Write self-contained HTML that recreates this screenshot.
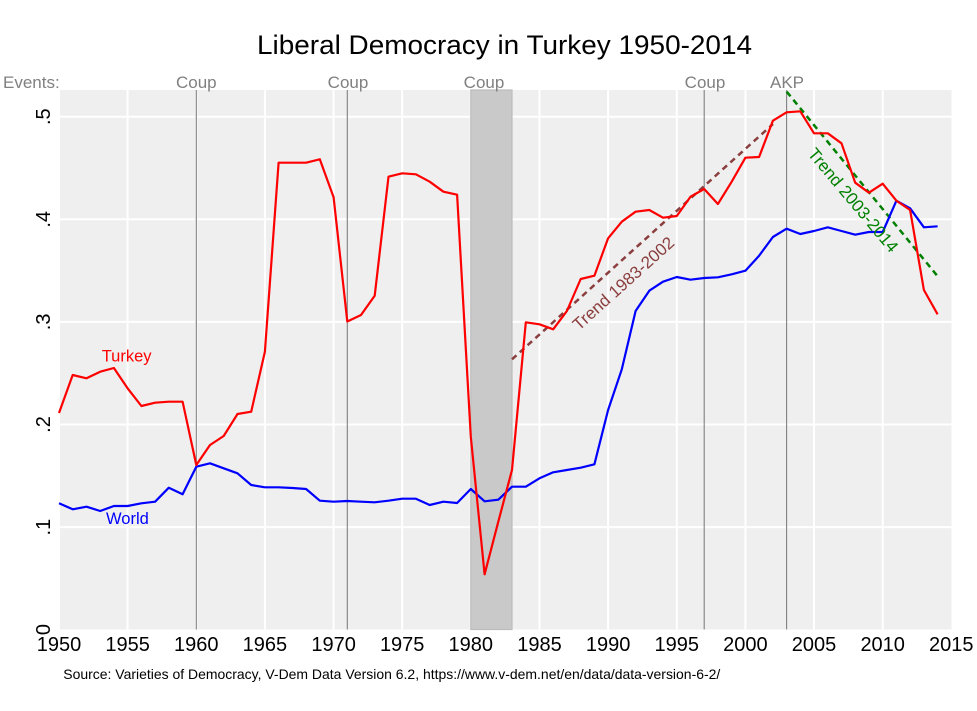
<!DOCTYPE html>
<html>
<head>
<meta charset="utf-8">
<style>
html,body{margin:0;padding:0;background:#fff;}
svg{display:block;}
text{font-family:"Liberation Sans",Arial,Helvetica,sans-serif;}
</style>
</head>
<body>
<svg width="977" height="711" viewBox="0 0 977 711" xmlns="http://www.w3.org/2000/svg">
<rect x="0" y="0" width="977" height="711" fill="#ffffff"/>
<!-- title -->
<text x="504.5" y="54" font-size="27" text-anchor="middle" textLength="495" lengthAdjust="spacingAndGlyphs" fill="#000">Liberal Democracy in Turkey 1950-2014</text>

<!-- plot background -->
<rect x="58.5" y="90" width="893" height="539.5" fill="#efefef"/>

<!-- gridlines -->
<g stroke="#ffffff" stroke-width="2">
<line x1="58.5" y1="116.7" x2="951.5" y2="116.7"/>
<line x1="58.5" y1="219.3" x2="951.5" y2="219.3"/>
<line x1="58.5" y1="321.9" x2="951.5" y2="321.9"/>
<line x1="58.5" y1="424.5" x2="951.5" y2="424.5"/>
<line x1="58.5" y1="527.1" x2="951.5" y2="527.1"/>
<line x1="59" y1="90" x2="59" y2="629.5"/>
<line x1="127.6" y1="90" x2="127.6" y2="629.5"/>
<line x1="196.3" y1="90" x2="196.3" y2="629.5"/>
<line x1="264.9" y1="90" x2="264.9" y2="629.5"/>
<line x1="333.6" y1="90" x2="333.6" y2="629.5"/>
<line x1="402.2" y1="90" x2="402.2" y2="629.5"/>
<line x1="470.8" y1="90" x2="470.8" y2="629.5"/>
<line x1="539.5" y1="90" x2="539.5" y2="629.5"/>
<line x1="608.1" y1="90" x2="608.1" y2="629.5"/>
<line x1="676.8" y1="90" x2="676.8" y2="629.5"/>
<line x1="745.4" y1="90" x2="745.4" y2="629.5"/>
<line x1="814.0" y1="90" x2="814.0" y2="629.5"/>
<line x1="882.7" y1="90" x2="882.7" y2="629.5"/>
</g>

<!-- shaded coup period 1980-1983 -->
<rect x="470.8" y="90" width="41.2" height="539.5" fill="#c9c9c9" stroke="#bcbcbc" stroke-width="1.2"/>

<!-- event lines -->
<g stroke="#808080" stroke-width="1.1">
<line x1="196.3" y1="90" x2="196.3" y2="629.5"/>
<line x1="347.3" y1="90" x2="347.3" y2="629.5"/>
<line x1="704.2" y1="90" x2="704.2" y2="629.5"/>
<line x1="786.6" y1="90" x2="786.6" y2="629.5"/>
</g>

<!-- event labels -->
<g fill="#808080" font-size="17">
<text x="3" y="88">Events:</text>
<text x="196.3" y="88" text-anchor="middle">Coup</text>
<text x="348" y="88" text-anchor="middle">Coup</text>
<text x="484" y="88" text-anchor="middle">Coup</text>
<text x="705" y="88" text-anchor="middle">Coup</text>
<text x="787" y="88" text-anchor="middle">AKP</text>
</g>

<!-- trend lines -->
<line x1="512" y1="359.3" x2="773" y2="124" stroke="#8b3e3e" stroke-width="2.5" stroke-dasharray="6 4.5"/>
<line x1="786.7" y1="91.7" x2="938" y2="276.7" stroke="#008000" stroke-width="2.5" stroke-dasharray="6 4.5"/>

<!-- World -->
<polyline fill="none" stroke="#0000ff" stroke-width="2.2" stroke-linejoin="round" points="
59.0,503.3 72.7,509.3 86.5,506.7 100.2,511 113.9,506 127.6,506 141.4,503.3 155.1,501.7 168.8,487.7 182.6,494.3
196.3,466.7 210.0,463.3 223.7,468.3 237.5,473.3 251.2,485 264.9,487.3 278.6,487.3 292.4,488 306.1,489 319.8,500.7
333.6,501.7 347.3,501 361.0,501.7 374.7,502.3 388.5,500.7 402.2,498.7 415.9,498.7 429.7,505 443.4,501.7 457.1,503
470.8,489 484.6,501.3 498.3,499.7 512.0,486.7 525.8,486.7 539.5,478.3 553.2,472.3 566.9,470 580.7,467.7 594.4,464.3
608.1,410 621.8,369.3 635.6,311 649.3,290.7 663.0,281.7 676.8,277 690.5,279.7 704.2,278 717.9,277.3 731.7,274.3
745.4,270.7 759.1,255.7 772.9,237 786.6,228.7 800.3,234 814.0,231 827.8,227.3 841.5,231 855.2,234.7 868.9,232
882.7,232 896.4,200.7 910.1,208.3 923.9,227.3 937.6,226.3"/>

<!-- Turkey -->
<polyline fill="none" stroke="#ff0000" stroke-width="2.2" stroke-linejoin="round" points="
59.0,413 72.7,375 86.5,378.3 100.2,371.7 113.9,368 127.6,388.3 141.4,406 155.1,402.7 168.8,401.7 182.6,401.7
196.3,465 210.0,445 223.7,436 237.5,414 251.2,411.7 264.9,351.7 278.6,162.7 292.4,162.7 306.1,162.7 319.8,159.3
333.6,197.3 347.3,321.5 361.0,315 374.7,295.7 388.5,176.7 402.2,173.3 415.9,174.3 429.7,181.7 443.4,191.7 457.1,194.7
470.8,436.7 484.6,574.3 498.3,521.7 512.0,470 525.8,322.3 539.5,324.3 553.2,329.3 566.9,311 580.7,279 594.4,275.7
608.1,238.3 621.8,221.7 635.6,211.7 649.3,210 663.0,217.7 676.8,216 690.5,196.7 704.2,189 717.9,204 731.7,181.7
745.4,157.7 759.1,157 772.9,120.7 786.6,112.3 800.3,111.3 814.0,133.3 827.8,133.3 841.5,143.3 855.2,182.7 868.9,192.7
882.7,183.7 896.4,200.7 910.1,210 923.9,290 937.6,314.3"/>

<!-- series labels -->
<text x="101.7" y="361.5" font-size="16.5" fill="#ff0000">Turkey</text>
<text x="106" y="524" font-size="16.5" fill="#0000ff">World</text>

<!-- trend labels -->
<text x="627.3" y="287.7" font-size="17" fill="#8b3e3e" text-anchor="middle" transform="rotate(-42 627.3 287.7)">Trend 1983-2002</text>
<text x="848.7" y="203.9" font-size="17" fill="#008000" text-anchor="middle" transform="rotate(50 848.7 203.9)">Trend 2003-2014</text>

<!-- y axis labels -->
<g font-size="20" fill="#000" text-anchor="middle">
<text x="50" y="116.7" transform="rotate(-90 50 116.7)">.5</text>
<text x="50" y="219.3" transform="rotate(-90 50 219.3)">.4</text>
<text x="50" y="321.9" transform="rotate(-90 50 321.9)">.3</text>
<text x="50" y="424.5" transform="rotate(-90 50 424.5)">.2</text>
<text x="50" y="527.1" transform="rotate(-90 50 527.1)">.1</text>
<text x="50" y="629.5" transform="rotate(-90 50 629.5)">0</text>
</g>

<!-- x axis labels -->
<g font-size="20" fill="#000" text-anchor="middle">
<text x="59.0" y="651">1950</text>
<text x="127.6" y="651">1955</text>
<text x="196.3" y="651">1960</text>
<text x="264.9" y="651">1965</text>
<text x="333.6" y="651">1970</text>
<text x="402.2" y="651">1975</text>
<text x="470.8" y="651">1980</text>
<text x="539.5" y="651">1985</text>
<text x="608.1" y="651">1990</text>
<text x="676.8" y="651">1995</text>
<text x="745.4" y="651">2000</text>
<text x="814.0" y="651">2005</text>
<text x="882.7" y="651">2010</text>
<text x="951.3" y="651">2015</text>
</g>

<!-- source note -->
<text x="63.3" y="679" font-size="14" fill="#000" textLength="657" lengthAdjust="spacingAndGlyphs">Source: Varieties of Democracy, V-Dem Data Version 6.2, https://www.v-dem.net/en/data/data-version-6-2/</text>
</svg>
</body>
</html>
